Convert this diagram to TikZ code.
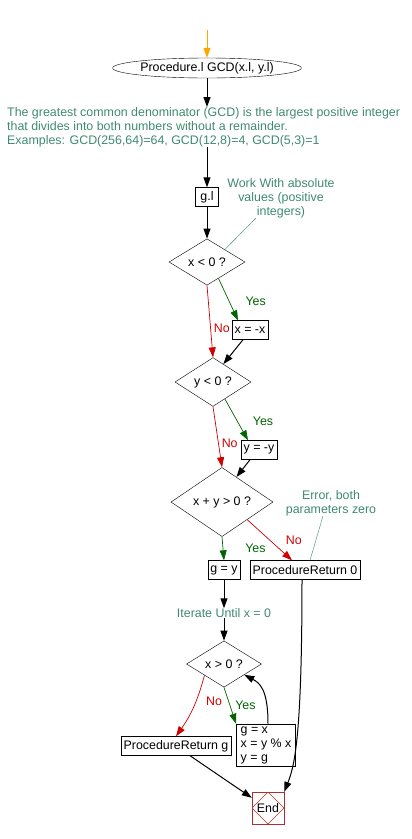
\documentclass[tikz,border=0pt]{standalone}
\usepackage{fontspec}
\setmainfont{Liberation Sans}
\usetikzlibrary{arrows.meta,shapes.geometric}
\definecolor{notegreen}{HTML}{3F8A6E}
\definecolor{yesgreen}{HTML}{006400}
\definecolor{nored}{HTML}{D00000}
\definecolor{endred}{HTML}{B03030}
\definecolor{startorange}{HTML}{FFA500}

\begin{document}
\begin{tikzpicture}[x=1pt,y=-1pt,font=\fontsize{12.4}{14}\selectfont,
  >={Triangle[length=10pt,width=7pt]},
  box/.style={draw,rectangle,inner sep=2.5pt,minimum height=19pt},
  cond/.style={draw,diamond,inner sep=0pt},
  note/.style={text=notegreen,inner sep=0pt},
  flow/.style={->,line width=1pt},
  yes/.style={->,yesgreen,line width=0.7pt},
  no/.style={->,nored,line width=0.7pt},
  yeslabel/.style={text=yesgreen,anchor=west,inner sep=0pt},
  nolabel/.style={text=nored,anchor=west,inner sep=0pt}]
\useasboundingbox (0,0) rectangle (412,839);
\coordinate (entry) at (207,30);
\node[draw,ellipse,inner sep=0pt,minimum width=146pt,minimum height=20pt] (proc) at (207,68) {Procedure.l GCD(x.l, y.l)};
\node[note,anchor=north west,align=left] (intro) at (7,107) {The greatest common denominator (GCD) is the largest positive integer\\that divides into both numbers without a remainder.\\Examples: GCD(256,64)=64, GCD(12,8)=4, GCD(5,3)=1};
\node[box,minimum width=23pt] (gl) at (207,197) {g.l};
\node[note,align=center] (absnote) at (281,198) {Work With absolute\\values (positive\\integers)};
\node[cond,minimum width=76pt,minimum height=37pt] (xlt) at (207,262) {x < 0 ?};
\node[box] (xneg) at (250,330) {x = -x};
\node[cond,minimum width=76pt,minimum height=37pt] (ylt) at (213,382) {y < 0 ?};
\node[box] (yneg) at (259,450) {y = -y};
\node[cond,minimum width=102pt,minimum height=37pt] (sum) at (222,502) {x + y > 0 ?};
\node[note,align=center] (errnote) at (331,503) {Error, both\\parameters zero};
\node[box] (gy) at (224,570) {g = y};
\node[box] (ret0) at (305,570) {ProcedureReturn 0};
\node[note] (iter) at (224,613) {Iterate Until x = 0};
\node[cond,minimum width=75pt,minimum height=35pt] (xgt) at (224,664) {x > 0 ?};
\node[box,align=left,minimum width=59pt] (swap) at (266,745) {g = x\\x = y \% x\\y = g};
\node[box] (retg) at (176,746) {ProcedureReturn g};
\node[draw=endred,rectangle,minimum size=32pt,inner sep=0pt,
  path picture={\draw[endred] (path picture bounding box.north)--(path picture bounding box.east)
  --(path picture bounding box.south)--(path picture bounding box.west)--cycle;}] (end) at (268,808) {End};

\draw[->,startorange,line width=1pt] (entry) -- (proc);
\draw[flow] (proc) -- (proc.south |- intro.north);
\draw[flow] (intro.south -| gl.north) -- (gl);
\draw[flow] (gl) -- (xlt);
\draw[notegreen] (xlt.35) -- ([xshift=-25pt]absnote.south);
\draw[yes] (xlt.-55) -- ([xshift=-12pt]xneg.north) node[yeslabel,pos=.55,xshift=16pt] {Yes};
\draw[no] (xlt.south) -- (ylt.north) node[nolabel,pos=.6,xshift=3pt] {No};
\draw[flow] ([xshift=-7pt]xneg.south) -- (ylt.60);
\draw[yes] (ylt.-55) -- ([xshift=-11pt]yneg.north) node[yeslabel,pos=.55,xshift=15pt] {Yes};
\draw[no] (ylt.south) -- (sum.north) node[nolabel,pos=.6,xshift=3pt] {No};
\draw[flow] ([xshift=-9pt]yneg.south) -- (sum.60);
\draw[yes] (sum.south) -- (gy.north) node[yeslabel,pos=.5,xshift=22pt] {Yes};
\draw[no] (sum.-35) -- ([xshift=-13pt]ret0.north) node[nolabel,pos=.5,xshift=16pt] {No};
\draw[notegreen] ([xshift=5pt]ret0.north) -- ([xshift=-8pt]errnote.south);
\draw[flow] (gy) -- (iter);
\draw[flow] (iter) -- (xgt);
\draw[no] (xgt.-150) to[bend left=10] node[nolabel,pos=.4,xshift=10pt] {No} (retg.north);
\draw[yes] (xgt.south) -- ([xshift=-30pt]swap.north) node[yeslabel,pos=.5,xshift=5pt] {Yes};
\draw[flow] ([xshift=2pt]swap.north) .. controls +(0,-35) and +(15,8) .. (xgt.-28);
\draw[flow] ([xshift=14pt]retg.south) -- ([yshift=-6pt]end.north west);
\draw[flow] ([xshift=-3pt]ret0.south) .. controls +(0,160) and +(10,-25) .. (end.north east);
\end{tikzpicture}
\end{document}
